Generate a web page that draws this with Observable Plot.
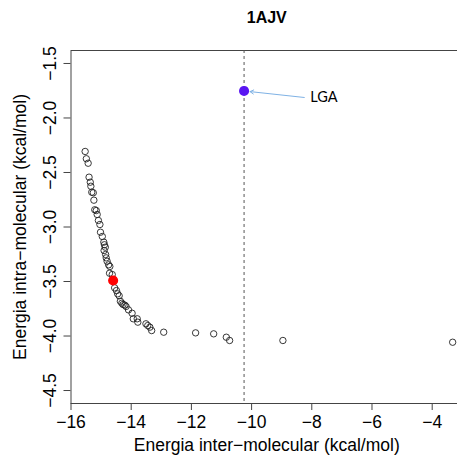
<!DOCTYPE html>
<html>
<head>
<meta charset="utf-8">
<script src="https://cdn.jsdelivr.net/npm/d3@7"></script>
<script src="https://cdn.jsdelivr.net/npm/@observablehq/plot@0.6"></script>
<style>
  html, body { margin: 0; padding: 0; background: #fff; overflow: hidden; }
  svg { display: block; max-width: none !important; }
</style>
</head>
<body>
<div id="chart"></div>
<script>
// ---- data ----
const title = "1AJV";
const xLabel = "Energia inter−molecular (kcal/mol)";
const yLabel = "Energia intra−molecular (kcal/mol)";

const interEnergy = [
  -15.53, -15.49, -15.43, -15.40, -15.36, -15.34, -15.31, -15.26, -15.24, -15.21,
  -15.16, -15.13, -15.09, -15.04, -15.02, -14.96, -14.91, -14.89, -14.86, -14.90,
  -14.85, -14.83, -14.80, -14.75, -14.71, -14.72, -14.63, -14.55, -14.49, -14.45,
  -14.40, -14.36, -14.31, -14.27, -14.21, -14.17, -14.09, -13.97, -13.93, -13.80,
  -13.78, -13.51, -13.45, -13.38, -13.32, -12.92, -11.86, -11.26, -10.84, -10.73,
  -8.96, -3.32
];
const intraEnergy = [
  -2.307, -2.374, -2.415, -2.543, -2.589, -2.626, -2.681, -2.686, -2.754, -2.842,
  -2.849, -2.885, -2.940, -2.977, -3.048, -3.087, -3.139, -3.163, -3.185, -3.216,
  -3.252, -3.283, -3.314, -3.347, -3.362, -3.424, -3.436, -3.558, -3.583, -3.613,
  -3.631, -3.681, -3.699, -3.711, -3.717, -3.729, -3.760, -3.791, -3.842, -3.842,
  -3.873, -3.888, -3.904, -3.919, -3.950, -3.965, -3.971, -3.980, -4.011, -4.041,
  -4.041, -4.057
];

// best (red) solution
const bestInter = [-14.60];
const bestIntra = [-3.491];

// LGA solution (blue) and its annotation
const lgaInter = [-10.25];
const lgaIntra = [-1.752];
const lgaLabel = ["LGA"];
const lgaLabelInter = [-8.05];
const lgaLabelIntra = [-1.812];

const xTicks = [-16, -14, -12, -10, -8, -6, -4];
const yTicks = [-4.5, -4.0, -3.5, -3.0, -2.5, -2.0, -1.5];

// ---- build ----
const pts = interEnergy.map((x, i) => ({x, y: intraEnergy[i]}));
const best = bestInter.map((x, i) => ({x, y: bestIntra[i]}));
const lga = lgaInter.map((x, i) => ({x, y: lgaIntra[i], label: lgaLabel[i], lx: lgaLabelInter[i], ly: lgaLabelIntra[i]}));

const fmtY = d => d.toFixed(1).replace("-", "−");
const fmtX = d => String(d).replace("-", "−");

const axisColor = "#444";
const font = "'Liberation Sans', Arial, sans-serif";

const chart = Plot.plot({
  width: 462,
  height: 459,
  marginTop: 50,
  marginBottom: 56,
  marginLeft: 70.5,
  marginRight: 0,
  style: {fontFamily: font, background: "#fff", overflow: "visible", maxWidth: "none"},
  x: {domain: [-16, -2.993], ticks: xTicks},
  y: {domain: [-4.619, -1.381], ticks: yTicks},
  marks: [
    Plot.frame({stroke: axisColor, strokeWidth: 1}),
    // dashed reference line at LGA inter-energy
    Plot.ruleX(lga, {x: "x", stroke: "#555", strokeWidth: 1, strokeDasharray: "3,3"}),
    // axes
    Plot.axisX({ticks: xTicks, tickSize: 7, tickPadding: 5, tickFormat: fmtX, fontSize: 17.5, stroke: axisColor, color: "#000", label: null}),
    Plot.axisY({ticks: yTicks, tickSize: 7, tickFormat: () => "", stroke: axisColor, label: null}),
    Plot.text(yTicks, {x: () => -16, y: d => d, text: fmtY, rotate: -90, dx: -21, fontSize: 17.5, fill: "#000", textAnchor: "middle", lineAnchor: "middle"}),
    // titles
    Plot.text([title], {frameAnchor: "top", dy: -33, fontSize: 16, fontWeight: "bold", fill: "#000", lineAnchor: "middle"}),
    Plot.text([xLabel], {frameAnchor: "bottom", dy: 42, fontSize: 17.5, fill: "#000", lineAnchor: "middle"}),
    Plot.text([yLabel], {frameAnchor: "left", dx: -51, rotate: -90, fontSize: 17.5, fill: "#000", lineAnchor: "middle", textAnchor: "middle"}),
    // points
    Plot.dot(pts, {x: "x", y: "y", r: 3.2, stroke: "#222", strokeWidth: 0.9, fill: "none"}),
    Plot.dot(best, {x: "x", y: "y", r: 4.3, fill: "#ff0000", stroke: "#ff0000"}),
    Plot.dot(lga, {x: "x", y: "y", r: 4.3, fill: "#5a16f2", stroke: "#5a16f2"}),
    // annotation arrow + label
    Plot.arrow(lga, {x1: d => d.lx - 0.2, y1: "ly", x2: "x", y2: "y", insetEnd: 6, stroke: "#7fb2e5", strokeWidth: 1, headLength: 6, bend: 0}),
    Plot.text(lga, {x: "lx", y: "ly", text: "label", textAnchor: "start", fontSize: 14.5, fontFamily: "Lato, 'Open Sans', sans-serif", fill: "#000"})
  ]
});

document.getElementById("chart").appendChild(chart);
</script>
</body>
</html>
